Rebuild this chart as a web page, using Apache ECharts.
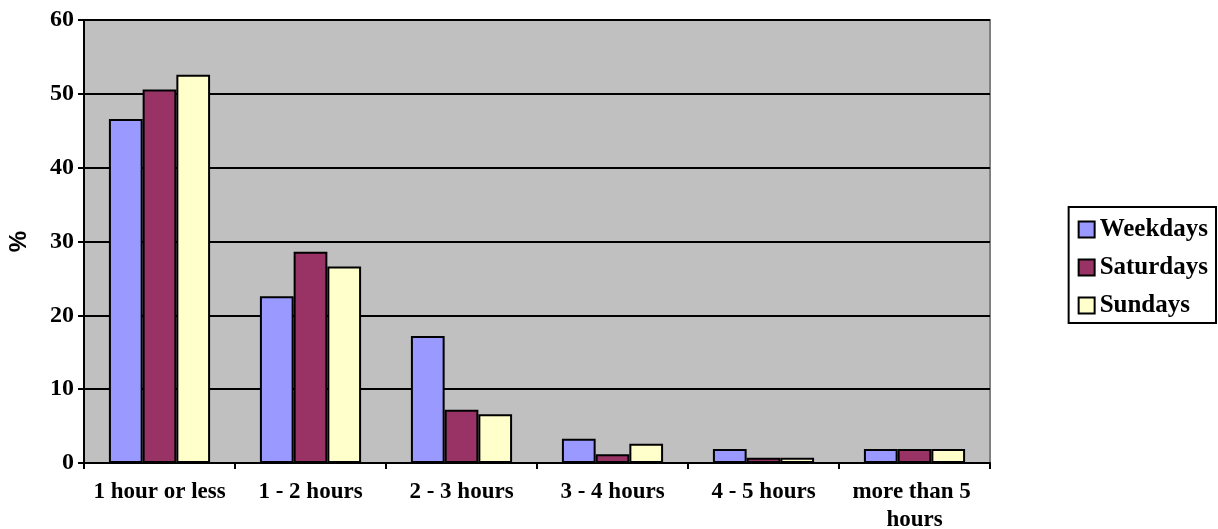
<!DOCTYPE html>
<html>
<head>
<meta charset="utf-8">
<script src="https://cdn.jsdelivr.net/npm/echarts@6/dist/echarts.min.js"></script>
<style>
  html, body { margin: 0; padding: 0; background: #ffffff; }
  #chart { width: 1218px; height: 529px; }
</style>
</head>
<body>
<div id="chart"></div>
<script>
// Time spent per day, share of respondents (%)
const categories = ['1 hour or less', '1 - 2 hours', '2 - 3 hours', '3 - 4 hours', '4 - 5 hours', 'more than 5 hours'];
const weekdays  = [46.6, 22.6, 17.2, 3.3, 1.9, 1.9];
const saturdays = [50.6, 28.6, 7.2, 1.2, 0.7, 1.9];
const sundays   = [52.6, 26.6, 6.6, 2.6, 0.7, 1.9];
const seriesNames = ['Weekdays', 'Saturdays', 'Sundays'];
const seriesColors = ['#9999FF', '#993366', '#FFFFCC'];

const serif = '"Liberation Serif", "Times New Roman", serif';

const chart = echarts.init(document.getElementById('chart'), null, { renderer: 'canvas' });

function barSeries(name, data, color) {
  return {
    name: name,
    type: 'bar',
    data: data,
    barGap: '0%',
    barCategoryGap: '33%',
    itemStyle: { color: color, borderColor: '#000000', borderWidth: 2 }
  };
}

chart.setOption({
  animation: false,
  grid: {
    left: 84, right: 228, top: 20, bottom: 66,
    containLabel: false,
    outerBoundsMode: 'none',
    show: true,
    backgroundColor: '#C0C0C0',
    borderColor: '#808080',
    borderWidth: 2
  },
  legend: {
    orient: 'vertical',
    right: 2,
    top: 207,
    padding: [10, 8, 5, 9],
    itemGap: 13,
    itemWidth: 16,
    itemHeight: 16,
    borderColor: '#000000',
    borderWidth: 2,
    textStyle: { fontFamily: serif, fontWeight: 'bold', fontSize: 25, color: '#000' },
    data: seriesNames.map(n => ({ name: n, icon: 'rect', itemStyle: { borderColor: '#000', borderWidth: 2 } }))
  },
  xAxis: {
    type: 'category',
    data: categories,
    axisLine: { lineStyle: { color: '#000', width: 2 } },
    axisTick: { show: true, length: 6, lineStyle: { color: '#000', width: 2 } },
    axisLabel: {
      interval: 0,
      fontFamily: serif, fontWeight: 'bold', fontSize: 23, color: '#000',
      margin: 15, width: 145, overflow: 'break', lineHeight: 28
    }
  },
  yAxis: {
    type: 'value',
    min: 0, max: 60, interval: 10,
    name: '%',
    nameLocation: 'middle',
    nameGap: 53,
    nameRotate: 90,
    nameTextStyle: { fontFamily: '"Liberation Sans", Arial, sans-serif', fontWeight: 'bold', fontSize: 24, color: '#000' },
    axisLine: { show: true, lineStyle: { color: '#000', width: 2 } },
    axisTick: { show: true, length: 6, lineStyle: { color: '#000', width: 2 } },
    axisLabel: { fontFamily: serif, fontWeight: 'bold', fontSize: 24, color: '#000', margin: 10 },
    splitLine: { show: true, lineStyle: { color: '#000', width: 2 } }
  },
  series: [
    barSeries(seriesNames[0], weekdays, seriesColors[0]),
    barSeries(seriesNames[1], saturdays, seriesColors[1]),
    barSeries(seriesNames[2], sundays, seriesColors[2])
  ]
});
</script>
</body>
</html>
